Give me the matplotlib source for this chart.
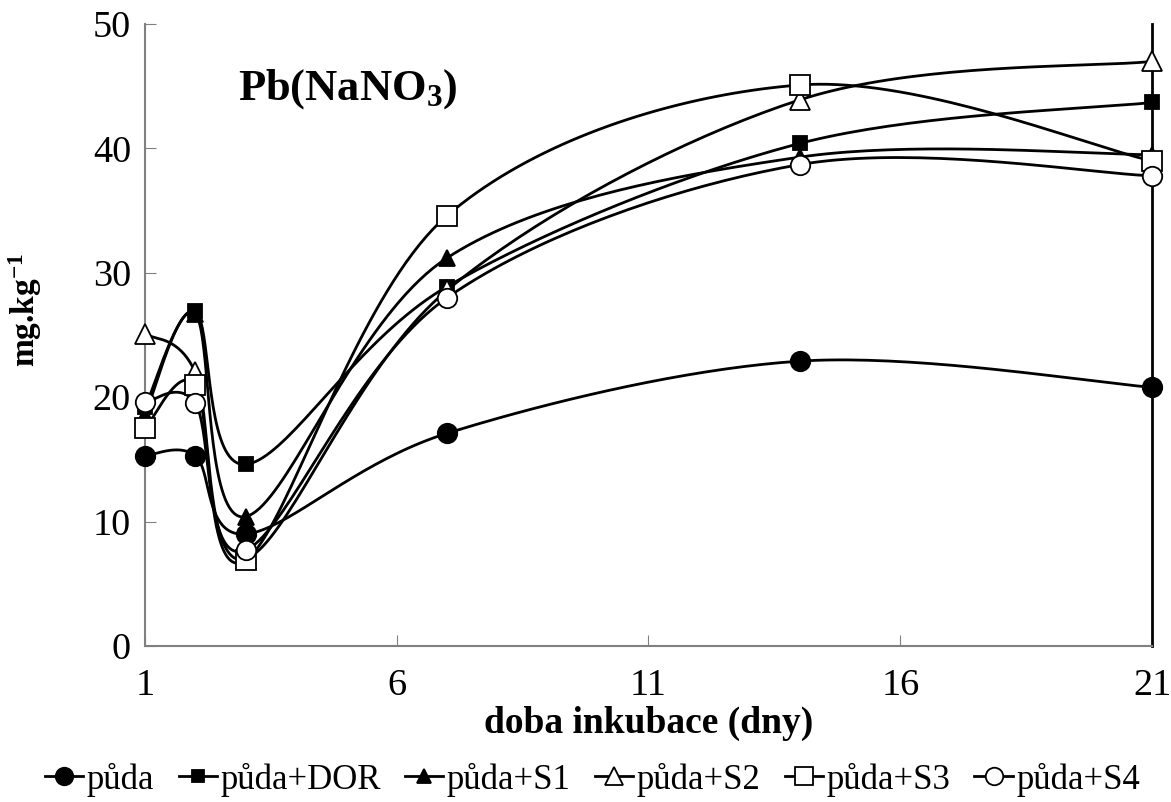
import numpy as np
import matplotlib.pyplot as plt

days = [1, 2, 3, 7, 14, 21]
puda = [15.3, 15.3, 9.0, 17.1, 22.9, 20.8]
puda_dor = [19.2, 26.9, 14.6, 28.9, 40.4, 43.7]
puda_s1 = [18.6, 26.7, 10.4, 31.2, 39.3, 39.5]
puda_s2 = [25.1, 22.0, 7.0, 28.6, 43.9, 47.0]
puda_s3 = [17.5, 21.0, 6.9, 34.6, 45.1, 39.0]
puda_s4 = [19.6, 19.5, 7.7, 28.0, 38.7, 37.8]

labels = ["půda", "půda+DOR", "půda+S1", "půda+S2", "půda+S3", "půda+S4"]
series = [puda, puda_dor, puda_s1, puda_s2, puda_s3, puda_s4]
markers = ["o", "s", "^", "^", "s", "o"]
fills = ["black", "black", "black", "white", "white", "white"]
msizes = [14, 10, 11, 14, 14, 14]


def smooth(x, y, n=40):
    # excel-like smoothed line (catmull-rom bezier)
    x = np.asarray(x, float)
    y = np.asarray(y, float)
    px = np.concatenate([[x[0]], x, [x[-1]]])
    py = np.concatenate([[y[0]], y, [y[-1]]])
    xs, ys = [], []
    t = np.linspace(0, 1, n)
    for i in range(1, len(x)):
        p0 = np.array([px[i], py[i]])
        p3 = np.array([px[i + 1], py[i + 1]])
        c1 = p0 + (p3 - np.array([px[i - 1], py[i - 1]])) / 6
        c2 = p3 - (np.array([px[i + 2], py[i + 2]]) - p0) / 6
        b = ((1 - t) ** 3)[:, None] * p0 + (3 * (1 - t) ** 2 * t)[:, None] * c1 \
            + (3 * (1 - t) * t ** 2)[:, None] * c2 + (t ** 3)[:, None] * p3
        xs.extend(b[:, 0])
        ys.extend(b[:, 1])
    return xs, ys


plt.rcParams['font.family'] = ['Liberation Serif', 'DejaVu Serif']
plt.rcParams['mathtext.fontset'] = 'custom'
plt.rcParams['mathtext.rm'] = 'Liberation Serif'
plt.rcParams['mathtext.it'] = 'Liberation Serif:italic'
plt.rcParams['mathtext.bf'] = 'Liberation Serif:bold'

fig = plt.figure(figsize=(11.71, 8.02), dpi=100)
ax = fig.add_axes([0.1238, 0.1945, 0.86, 0.7755])

for ys, lab, m, fc, ms in zip(series, labels, markers, fills, msizes):
    sx, sy = smooth(days, ys)
    ax.plot(sx, sy, color="black", lw=2, zorder=2)
    ax.plot(days, ys, ls="none", marker=m, ms=ms, mfc=fc, mec="black", mew=1.3, zorder=3)

handles = []
for lab, m, fc, ms in zip(labels, markers, fills, msizes):
    h, = ax.plot([], [], color="black", lw=2, marker=m, ms=ms * 0.9, mfc=fc, mec="black", mew=1.3)
    handles.append(h)

ax.set_xlim(1, 21)
ax.set_ylim(0, 50)
ax.set_xticks([1, 6, 11, 16, 21])
ax.set_yticks([0, 10, 20, 30, 40, 50])
ax.tick_params(direction="in", length=8, color="gray", labelsize=27.5, pad=10)
ax.tick_params(axis="x", pad=16)
ax.spines["top"].set_visible(False)
ax.spines["right"].set_color("black")
ax.spines["right"].set_linewidth(2)
for s in ["left", "bottom"]:
    ax.spines[s].set_color("gray")
    ax.spines[s].set_linewidth(1.5)
for ln in ax.lines:
    ln.set_clip_on(False)

ax.set_xlabel("doba inkubace (dny)", fontsize=27, fontweight="bold")
ax.xaxis.set_label_coords(0.5, -0.096)
ax.set_ylabel("mg.kg$^{\\mathbf{-1}}$", fontsize=24, fontweight="bold")
ax.yaxis.set_label_coords(-0.1, 0.54)
ax.text(0.092, 0.895, "Pb(NaNO$_{\\mathbf{3}}$)", transform=ax.transAxes, fontsize=32,
        fontweight="bold", va="center")

fig.legend(handles, labels, loc="center", bbox_to_anchor=(0.506, 0.028), ncol=6,
           frameon=False, fontsize=25, handlelength=1.1, handletextpad=0.1,
           columnspacing=0.7, borderpad=0)

fig.savefig("out.png", dpi=100)
